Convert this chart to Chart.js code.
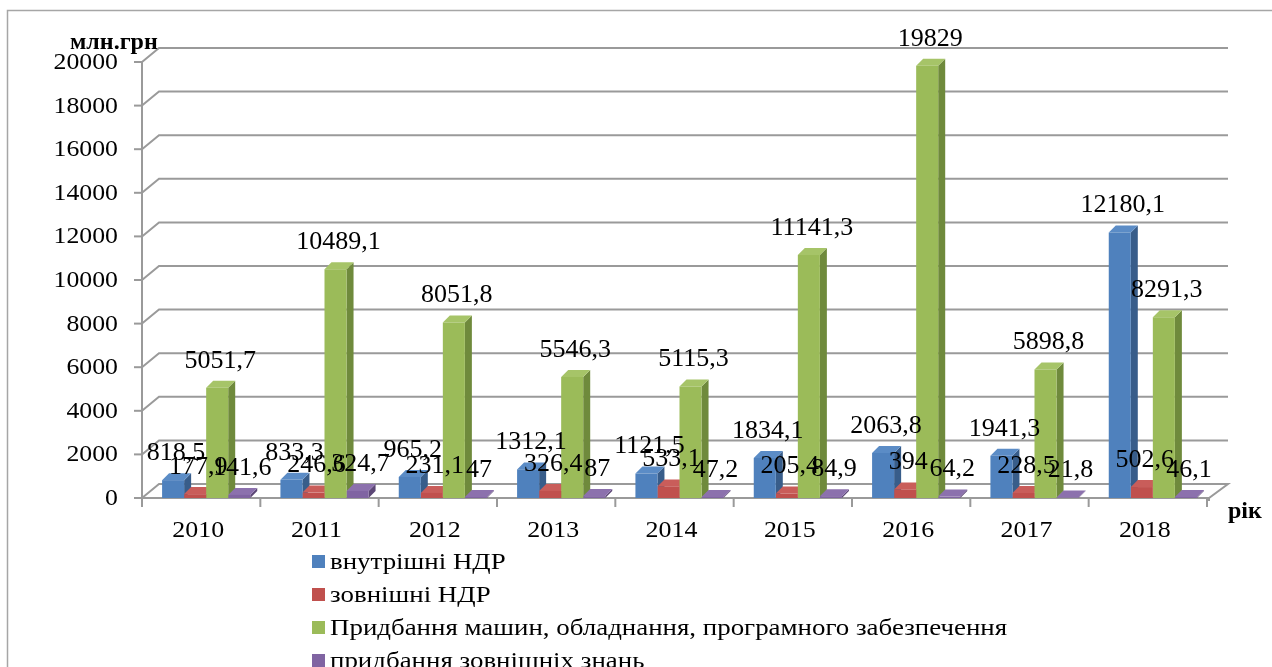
<!DOCTYPE html>
<html lang="uk">
<head>
<meta charset="utf-8">
<title>Витрати на інновації</title>
<script src="https://cdn.jsdelivr.net/npm/chart.js@4.4.1/dist/chart.umd.min.js"></script>
<style>
  html, body { margin: 0; padding: 0; background: #fff; }
  #wrap { width: 1272px; height: 667px; }
</style>
</head>
<body>
<div id="wrap"><canvas id="innov-chart" width="1272" height="667"></canvas></div>
<script>
'use strict';

// витрати на інновації, млн.грн
const years = ['2010', '2011', '2012', '2013', '2014', '2015', '2016', '2017', '2018'];
const internalRD = [818.5, 833.3, 965.2, 1312.1, 1121.5, 1834.1, 2063.8, 1941.3, 12180.1];
const externalRD = [177.9, 246.6, 231.1, 326.4, 533.1, 205.4, 394, 228.5, 502.6];
const machinery = [5051.7, 10489.1, 8051.8, 5546.3, 5115.3, 11141.3, 19829, 5898.8, 8291.3];
const knowledge = [141.6, 324.7, 47, 87, 47.2, 84.9, 64.2, 21.8, 46.1];
const yTicks = [0, 2000, 4000, 6000, 8000, 10000, 12000, 14000, 16000, 18000, 20000];

const FONT = '"Liberation Serif", "Times New Roman", serif';
const GRID = '#9a9a9a';
const WALL_DX = 17, WALL_DY = 14;   // depth of the floor / side wall
const BAR_DX = 7, BAR_DY = 7;       // depth of each column
const SHIFT = 5;                    // columns sit a little right of the frame

let canvasElement = document.getElementById('innov-chart');

function fmt(v) {
  return String(v).replace('.', ',');
}

function poly(ctx, pts, fill) {
  ctx.beginPath();
  ctx.moveTo(pts[0][0], pts[0][1]);
  for (let i = 1; i < pts.length; i++) ctx.lineTo(pts[i][0], pts[i][1]);
  ctx.closePath();
  ctx.fillStyle = fill;
  ctx.fill();
}

// text slightly widened, like the stretched Word chart
function wideText(ctx, text, x, y, sx) {
  ctx.save();
  ctx.translate(x, y);
  ctx.scale(sx, 1);
  ctx.fillText(text, 0, 0);
  ctx.restore();
}

// floor, walls, axes and the back/top faces of the columns
const frame3d = {
  id: 'frame3d',
  beforeDatasetsDraw(chart) {
    const ctx = chart.ctx;
    const xs = chart.scales.x, ys = chart.scales.y;
    const left = xs.left - SHIFT, right = xs.right - SHIFT;
    const y0 = ys.getPixelForValue(0);
    const backRight = right + WALL_DX + 4;

    ctx.save();
    ctx.lineWidth = 2;
    ctx.strokeStyle = GRID;

    // grid lines: side wall diagonal + back wall
    for (let i = 1; i < yTicks.length; i++) {
      const y = ys.getPixelForValue(yTicks[i]);
      ctx.beginPath();
      ctx.moveTo(left, y);
      ctx.lineTo(left + WALL_DX, y - WALL_DY);
      ctx.lineTo(backRight, y - WALL_DY);
      ctx.stroke();
    }

    // floor
    ctx.beginPath();
    ctx.moveTo(left, y0);
    ctx.lineTo(left + WALL_DX, y0 - WALL_DY);
    ctx.lineTo(backRight, y0 - WALL_DY);
    ctx.lineTo(right + 2, y0);
    ctx.closePath();
    ctx.fillStyle = '#fff';
    ctx.fill();
    ctx.stroke();
    ctx.beginPath();
    ctx.moveTo(right + 2, y0);
    ctx.lineTo(right + 2, y0 + 3);
    ctx.stroke();

    // value axis
    const yTop = ys.getPixelForValue(yTicks[yTicks.length - 1]);
    ctx.beginPath();
    ctx.moveTo(left, yTop);
    ctx.lineTo(left, y0);
    ctx.stroke();
    ctx.fillStyle = '#000';
    ctx.font = '23px ' + FONT;
    ctx.textAlign = 'right';
    ctx.textBaseline = 'middle';
    for (let i = 0; i < yTicks.length; i++) {
      const y = ys.getPixelForValue(yTicks[i]);
      ctx.beginPath();
      ctx.moveTo(left - 8, y);
      ctx.lineTo(left, y);
      ctx.stroke();
      wideText(ctx, String(yTicks[i]), left - 24, y + 1, 1.12);
    }

    // category axis ticks and labels
    const step = (right - left) / years.length;
    for (let i = 0; i <= years.length; i++) {
      const x = left + i * step;
      ctx.beginPath();
      ctx.moveTo(x, y0);
      ctx.lineTo(x, y0 + 9);
      ctx.stroke();
    }
    ctx.textAlign = 'center';
    ctx.font = '24px ' + FONT;
    for (let i = 0; i < years.length; i++) {
      wideText(ctx, years[i], xs.getPixelForTick(i) - SHIFT - 3, y0 + 33, 1.08);
    }

    // side and top faces of the columns
    chart.data.datasets.forEach((ds, di) => {
      const meta = chart.getDatasetMeta(di);
      meta.data.forEach(bar => {
        const p = bar.getProps(['x', 'y', 'base', 'width'], true);
        const l = p.x - p.width / 2, r = p.x + p.width / 2;
        poly(ctx, [[r, p.y], [r + BAR_DX, p.y - BAR_DY], [r + BAR_DX, p.base - BAR_DY], [r, p.base]], ds.sideColor);
        poly(ctx, [[l, p.y], [l + BAR_DX, p.y - BAR_DY], [r + BAR_DX, p.y - BAR_DY], [r, p.y]], ds.topColor);
      });
    });
    ctx.restore();
  },

  // value labels above the columns
  afterDatasetsDraw(chart) {
    const ctx = chart.ctx;
    ctx.save();
    ctx.fillStyle = '#000';
    ctx.font = '26px ' + FONT;
    ctx.textAlign = 'center';
    ctx.textBaseline = 'middle';
    chart.data.datasets.forEach((ds, di) => {
      const meta = chart.getDatasetMeta(di);
      meta.data.forEach((bar, i) => {
        const p = bar.getProps(['x', 'y'], true);
        ctx.fillText(fmt(ds.data[i]), p.x + 3, p.y - 27);
      });
    });
    ctx.restore();
  },

  // titles, legend and outer frame
  afterDraw(chart) {
    const ctx = chart.ctx;
    const xs = chart.scales.x, ys = chart.scales.y;
    ctx.save();
    ctx.fillStyle = '#000';
    ctx.font = 'bold 24px ' + FONT;
    ctx.textBaseline = 'middle';
    ctx.textAlign = 'left';
    ctx.fillText('млн.грн', 70, 43);
    ctx.fillText('рік', xs.right + 16, ys.getPixelForValue(0) + 14);

    ctx.font = '23px ' + FONT;
    chart.data.datasets.forEach((ds, di) => {
      const y = 562 + di * 33;
      ctx.fillStyle = ds.backgroundColor;
      ctx.fillRect(312, y - 7, 13, 13);
      ctx.fillStyle = '#000';
      wideText(ctx, ds.label, 330, y + 1, 1.17);
    });

    ctx.strokeStyle = '#a6a6a6';
    ctx.lineWidth = 1.5;
    ctx.beginPath();
    ctx.moveTo(7.5, 667);
    ctx.lineTo(7.5, 10.5);
    ctx.lineTo(1272, 10.5);
    ctx.stroke();
    ctx.restore();
  }
};

let chartObj = {
  type: 'bar',
  data: {
    labels: years,
    datasets: [
      { label: 'внутрішні НДР', data: internalRD, backgroundColor: '#4f81bd', sideColor: '#385d8a', topColor: '#5b8cc6' },
      { label: 'зовнішні НДР', data: externalRD, backgroundColor: '#c0504d', sideColor: '#8c3836', topColor: '#c95d5a' },
      { label: 'Придбання машин, обладнання, програмного забезпечення', data: machinery, backgroundColor: '#9bbb59', sideColor: '#6f8a3c', topColor: '#a6c468' },
      { label: 'придбання зовнішніх знань', data: knowledge, backgroundColor: '#8064a2', sideColor: '#5c4776', topColor: '#8c71ad' }
    ]
  },
  options: {
    responsive: false,
    animation: false,
    devicePixelRatio: 1,
    datasets: {
      bar: { categoryPercentage: 0.745, barPercentage: 1, borderWidth: 0 }
    },
    layout: { padding: { left: 142 + SHIFT, right: 60, top: 62, bottom: 169 } },
    scales: {
      x: { display: false },
      y: { display: false, min: 0, max: 20000 }
    },
    plugins: {
      legend: { display: false },
      tooltip: { enabled: false }
    }
  },
  plugins: [frame3d]
};

new Chart(canvasElement, chartObj);//eslint-disable-line
</script>
</body>
</html>
